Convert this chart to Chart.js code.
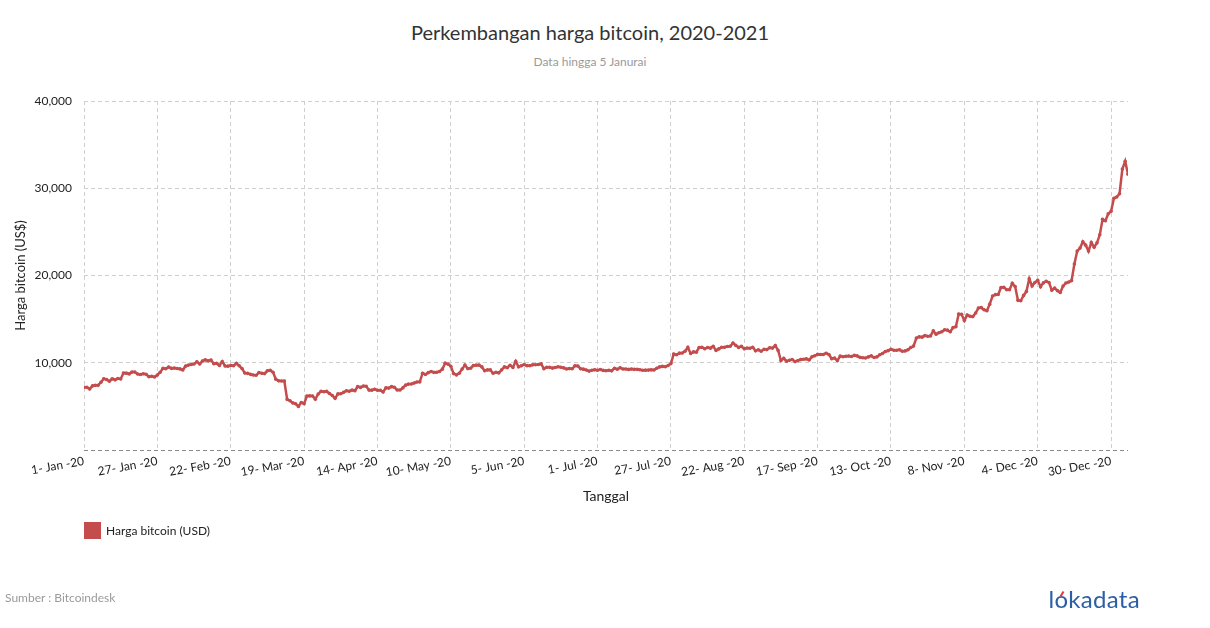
<!DOCTYPE html>
<html>
<head>
<meta charset="utf-8">
<script src="https://cdn.jsdelivr.net/npm/chart.js@4"></script>
<style>
  html, body { margin: 0; padding: 0; background: #fff; }
  body { width: 1210px; height: 628px; position: relative; overflow: hidden; font-family: Lato, 'Noto Sans', sans-serif; }
  #chart { position: absolute; left: 0; top: 0; }
  .title { position: absolute; left: 0; width: 1180px; top: 20px; text-align: center; font-size: 20px; color: #333; }
  .subtitle { position: absolute; left: 0; width: 1180px; top: 54px; text-align: center; font-size: 12px; color: #9a9a9a; }
  .legend { position: absolute; left: 84px; top: 522px; display: flex; align-items: center; font-size: 12px; color: #222; }
  .legend i { display: inline-block; width: 17px; height: 17px; margin-right: 5px; }
  .source { position: absolute; left: 5px; top: 590px; font-size: 12px; color: #9a9a9a; }
  .logo { position: absolute; right: 70px; top: 584px; font-size: 24px; color: #2c5ea4; letter-spacing: 0.3px; }
  .logo .o { position: relative; }
  .logo .o::after { content: ''; position: absolute; left: 7px; top: 7px; width: 2px; height: 6px; background: #e03b3b; transform: rotate(30deg); }
</style>
</head>
<body>
<div class="title">Perkembangan harga bitcoin, 2020-2021</div>
<div class="subtitle">Data hingga 5 Janurai</div>
<canvas id="chart" width="1210" height="628"></canvas>
<div class="legend" id="legend"></div>
<div class="source">Sumber : Bitcoindesk</div>
<div class="logo">l<span class="o">o</span>kadata</div>
<script>
// daily price, one value per day from 1 Jan 2020 to 5 Jan 2021
const pricesJan = [7194, 7200, 6985, 7345, 7411, 7411, 7769, 8164, 8080, 7879, 8167, 8038, 8192, 8144, 8828, 8807, 8724, 8929, 8943, 8706, 8658, 8746, 8681, 8407, 8445, 8368, 8597, 8910, 9359, 9317, 9509];
const pricesFeb = [9351, 9393, 9344, 9294, 9181, 9613, 9730, 9796, 9865, 10117, 9857, 10208, 10326, 10214, 10312, 9889, 9934, 9690, 10142, 9633, 9608, 9686, 9663, 9925, 9650, 9342, 8821, 8784, 8672];
const pricesMar = [8600, 8562, 8870, 8788, 8755, 9079, 9123, 8910, 8108, 7924, 7910, 7911, 5800, 5650, 5400, 5300, 5000, 5450, 5300, 6191, 6199, 6185, 5830, 6416, 6735, 6681, 6716, 6470, 6242, 5922, 6430];
const pricesApr = [6439, 6607, 6794, 6733, 6868, 6791, 7272, 7176, 7334, 7302, 6865, 6859, 6971, 6845, 6842, 6642, 7117, 7096, 7258, 7189, 6882, 6880, 7117, 7430, 7551, 7570, 7680, 7796, 7807, 8801];
const pricesMay = [8659, 8865, 8989, 8897, 8913, 9003, 9269, 9952, 9843, 9594, 8756, 8602, 8804, 9270, 9734, 9328, 9377, 9671, 9727, 9729, 9523, 9082, 9183, 9181, 8790, 8907, 8835, 9181, 9526, 9439, 9700];
const pricesJun = [9461, 10167, 9530, 9657, 9801, 9666, 9654, 9759, 9771, 9796, 9870, 9322, 9481, 9475, 9387, 9451, 9538, 9480, 9412, 9288, 9332, 9304, 9649, 9630, 9314, 9265, 9163, 9045, 9144, 9191];
const pricesJul = [9138, 9228, 9123, 9087, 9132, 9074, 9375, 9252, 9428, 9278, 9279, 9240, 9277, 9244, 9243, 9193, 9132, 9151, 9159, 9186, 9164, 9375, 9525, 9581, 9537, 9677, 9905, 10991, 10913, 11100, 11111];
const pricesAug = [11323, 11760, 11054, 11246, 11206, 11747, 11780, 11601, 11754, 11676, 11878, 11411, 11585, 11784, 11769, 11866, 11893, 12254, 11991, 11758, 11878, 11592, 11682, 11665, 11775, 11366, 11488, 11323, 11543, 11507, 11712];
const pricesSep = [11681, 11970, 11414, 10245, 10512, 10170, 10280, 10370, 10132, 10242, 10363, 10401, 10442, 10324, 10681, 10797, 10975, 10949, 10945, 11094, 10938, 10462, 10538, 10246, 10760, 10693, 10751, 10775, 10710, 10845];
const pricesOct = [10784, 10619, 10576, 10549, 10670, 10793, 10604, 10669, 10916, 11064, 11296, 11384, 11555, 11426, 11430, 11495, 11322, 11358, 11483, 11742, 11916, 12824, 12966, 12932, 13108, 13031, 13075, 13654, 13271, 13438, 13547];
const pricesNov = [13781, 13737, 13550, 14030, 14134, 15580, 15566, 14834, 15480, 15332, 15291, 15701, 16276, 16318, 16068, 15956, 16716, 17645, 17804, 17817, 18621, 18642, 18370, 18364, 19107, 18733, 17151, 17108, 17717, 18177];
const pricesDec = [19626, 18803, 19201, 19445, 18700, 19154, 19345, 19192, 18321, 18554, 18265, 18059, 18804, 19142, 19247, 19417, 21311, 22805, 23138, 23870, 23477, 22803, 23783, 23241, 23736, 24665, 26437, 26272, 27085, 27362, 28841];
const pricesJan21 = [29002, 29374, 32200, 33100, 31600];

const prices = [
    ...pricesJan, ...pricesFeb, ...pricesMar, ...pricesApr, ...pricesMay, ...pricesJun,
    ...pricesJul, ...pricesAug, ...pricesSep, ...pricesOct, ...pricesNov, ...pricesDec, ...pricesJan21,
];

// x ticks: day number since 1 Jan 2020
const tickDays = [0, 26, 52, 78, 104, 130, 156, 182, 208, 234, 260, 286, 312, 338, 364];
const tickLabels = ['1- Jan -20', '27- Jan -20', '22- Feb -20', '19- Mar -20', '14- Apr -20', '10- May -20', '5- Jun -20',
    '1- Jul -20', '27- Jul -20', '22- Aug -20', '17- Sep -20', '13- Oct -20', '8- Nov -20', '4- Dec -20', '30- Dec -20'];
const yTicks = [0, 10000, 20000, 30000, 40000];

const seriesLabel = 'Harga bitcoin (USD)';
const lineColor = '#c44c4c';

const points = prices.map((v, i) => ({ x: i, y: v }));

const font = { family: 'Lato', size: 12 };

const chart = new Chart(document.getElementById('chart').getContext('2d'), {
    type: 'line',
    data: {
        datasets: [{
            label: seriesLabel,
            data: points,
            borderColor: lineColor,
            backgroundColor: lineColor,
            borderWidth: 2.5,
            pointRadius: 1.8,
            pointBorderWidth: 0,
            pointHoverRadius: 0,
            tension: 0,
        }],
    },
    options: {
        responsive: false,
        animation: false,
        layout: { padding: { top: 101, left: 0, right: 82, bottom: 123 } },
        plugins: {
            legend: { display: false },
            tooltip: { enabled: false },
        },
        scales: {
            x: {
                type: 'linear',
                min: 0,
                max: 370,
                afterBuildTicks: (scale) => {
                    scale.ticks = tickDays.map((v) => ({ value: v }));
                },
                afterFit: (scale) => { scale.height = 55; },
                ticks: {
                    font,
                    color: '#222',
                    padding: 4,
                    minRotation: 10,
                    maxRotation: 10,
                    autoSkip: false,
                    callback: (value) => tickLabels[tickDays.indexOf(value)] ?? '',
                },
                grid: { color: '#d0d0d0', lineWidth: 1, drawTicks: false },
                border: { display: false, dash: [4, 3] },
                title: {
                    display: true,
                    text: 'Tanggal',
                    color: '#222',
                    font: { family: 'Lato', size: 14 },
                    padding: { top: 0, bottom: 0 },
                },
            },
            y: {
                min: 0,
                max: 40000,
                afterBuildTicks: (scale) => {
                    scale.ticks = yTicks.map((v) => ({ value: v }));
                },
                afterFit: (scale) => { scale.width = 84; },
                ticks: {
                    font,
                    color: '#222',
                    padding: 12,
                    callback: (value) => (value === 0 ? '' : value.toLocaleString('en-US')),
                },
                grid: {
                    drawTicks: false,
                    lineWidth: 1,
                    color: (ctx) => (ctx.tick && ctx.tick.value === 0 ? '#8a8a8a' : '#d0d0d0'),
                },
                border: { display: false, dash: [4, 3] },
                title: {
                    display: true,
                    text: 'Harga bitcoin (US$)',
                    color: '#222',
                    font: { family: 'Lato', size: 13 },
                    padding: { top: 13, bottom: 0 },
                },
            },
        },
    },
});

const legend = document.getElementById('legend');
chart.data.datasets.forEach((ds) => {
    const box = document.createElement('i');
    box.style.background = ds.borderColor;
    legend.appendChild(box);
    legend.appendChild(document.createTextNode(ds.label));
});
</script>
</body>
</html>
